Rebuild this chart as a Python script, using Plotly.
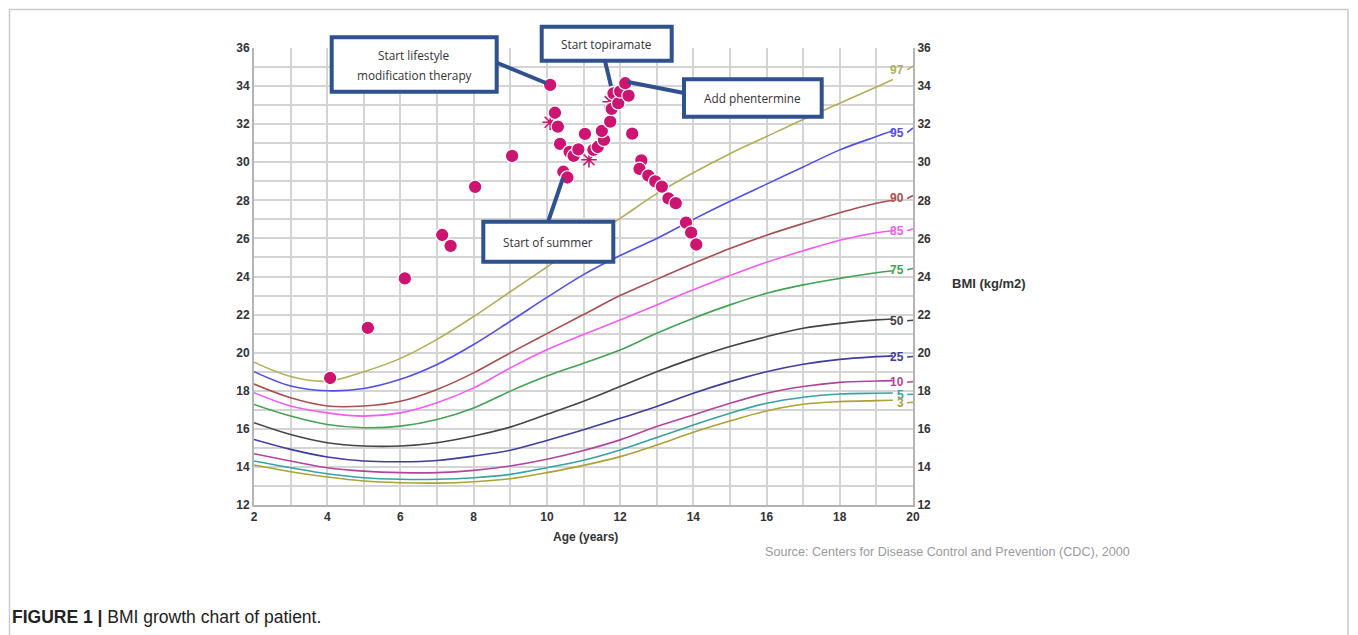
import plotly.graph_objects as go

# ---------------- data ----------------
ages = [2, 3, 4, 5, 6, 7, 8, 9, 10, 11, 12, 13, 14, 15, 16, 17, 18, 19, 19.45]
p97 = [19.5, 18.75, 18.5, 19.0, 19.7, 20.7, 21.9, 23.2, 24.5, 25.8, 27.05, 28.35, 29.45, 30.45, 31.35, 32.25, 33.1, 33.95, 34.35]
p95 = [19.0, 18.25, 18.0, 18.12, 18.6, 19.38, 20.43, 21.65, 22.9, 24.1, 25.1, 26.0, 27.0, 27.95, 28.85, 29.75, 30.65, 31.35, 31.65]
p90 = [18.35, 17.63, 17.2, 17.2, 17.45, 18.07, 18.94, 19.99, 21.0, 22.0, 23.0, 23.85, 24.68, 25.47, 26.17, 26.78, 27.35, 27.85, 28.0]
p85 = [17.9, 17.2, 16.84, 16.67, 16.84, 17.37, 18.15, 19.2, 20.15, 20.95, 21.72, 22.5, 23.3, 24.05, 24.75, 25.35, 25.9, 26.3, 26.4]
p75 = [17.28, 16.67, 16.23, 16.06, 16.14, 16.49, 17.1, 17.98, 18.77, 19.45, 20.14, 21.02, 21.81, 22.51, 23.12, 23.56, 23.9, 24.2, 24.3]
p50 = [16.32, 15.7, 15.27, 15.1, 15.1, 15.27, 15.62, 16.09, 16.76, 17.45, 18.22, 19.0, 19.7, 20.32, 20.84, 21.28, 21.54, 21.72, 21.77]
p25 = [15.44, 14.92, 14.52, 14.31, 14.27, 14.34, 14.57, 14.88, 15.39, 15.95, 16.55, 17.17, 17.87, 18.48, 19.0, 19.39, 19.65, 19.79, 19.83]
p10 = [14.69, 14.31, 13.96, 13.78, 13.7, 13.7, 13.82, 14.05, 14.4, 14.86, 15.42, 16.12, 16.73, 17.34, 17.87, 18.22, 18.44, 18.51, 18.53]
p5 = [14.31, 13.96, 13.64, 13.43, 13.35, 13.35, 13.43, 13.61, 13.96, 14.35, 14.89, 15.54, 16.2, 16.82, 17.34, 17.66, 17.83, 17.87, 17.88]
p3 = [14.1, 13.75, 13.47, 13.26, 13.17, 13.15, 13.22, 13.38, 13.7, 14.08, 14.54, 15.15, 15.82, 16.41, 16.94, 17.29, 17.43, 17.48, 17.5]

pct_names = ["97", "95", "90", "85", "75", "50", "25", "10", "5", "3"]
label_y = [34.85, 31.55, 28.1, 26.4, 24.35, 21.68, 19.77, 18.45, 17.8, 17.37]
end_y = [35.05, 31.8, 28.25, 26.5, 24.42, 21.7, 19.8, 18.47, 17.82, 17.4]
pct_colors = ["#b3ae5a", "#5050e4", "#a94f4f", "#f25cf2", "#43a352",
              "#444444", "#3d3d9e", "#b2449f", "#35a3a3", "#aba236"]

pt_age = [4.08, 5.11, 6.12, 7.14, 7.37, 8.04, 9.05, 10.09, 10.22, 10.3, 10.36, 10.45, 10.56,
          10.62, 10.73, 10.86, 11.04, 11.27, 11.39, 11.56, 11.5, 11.73, 11.77, 11.82, 11.95,
          12.0, 12.23, 12.14, 12.33, 12.58, 12.53, 12.77, 12.96, 13.14, 13.32, 13.52, 13.8,
          13.94, 14.08]
pt_bmi = [18.67, 21.3, 23.9, 26.18, 25.61, 28.71, 30.33, 34.06, 32.6, 31.87, 30.96, 29.5, 29.2,
          30.55, 30.33, 30.68, 31.49, 30.65, 30.8, 31.17, 31.64, 32.13, 32.8, 33.62, 33.1,
          33.72, 33.5, 34.15, 31.5, 30.1, 29.65, 29.3, 29.0, 28.72, 28.1, 27.85, 26.83,
          26.3, 25.68]
star_age = [10.09, 11.15, 11.73]
star_bmi = [32.1, 30.13, 33.18]

x_ticks = [2, 4, 6, 8, 10, 12, 14, 16, 18, 20]
y_ticks = [12, 14, 16, 18, 20, 22, 24, 26, 28, 30, 32, 34, 36]

# ---------------- geometry (screen pixels; page has an 8px body margin) ----------------
OFF = 8
W, H = 1350, 627
L, R, T, B = 254, 913, 48, 505


def px(xpix):
    return (xpix - L) / (R - L)


def py(ypix):
    return (B - ypix) / (B - T)


FONT = "Arial, Liberation Sans, sans-serif"
BOX = "#2f528f"
PINK = "#cc1470"

fig = go.Figure()

series = [p97, p95, p90, p85, p75, p50, p25, p10, p5, p3]
for name, vals, col, ly, ey in zip(pct_names, series, pct_colors, label_y, end_y):
    fig.add_trace(go.Scatter(x=ages, y=vals, mode="lines", line=dict(color=col, width=1.6, shape="spline"),
                             hoverinfo="skip", showlegend=False))
    fig.add_trace(go.Scatter(x=[19.84, 20], y=[ly, ey], mode="lines", line=dict(color=col, width=1.6),
                             hoverinfo="skip", showlegend=False))
    fig.add_annotation(x=19.84, y=ly, xref="x", yref="y", text=name, showarrow=False,
                       xanchor="right", yanchor="middle", xshift=-1,
                       font=dict(family=FONT, size=12, color=col, weight="bold"))

fig.add_trace(go.Scatter(x=star_age, y=star_bmi, mode="markers",
                         marker=dict(symbol="asterisk-open", size=13, color=PINK,
                                     line=dict(color=PINK, width=1.6)),
                         hoverinfo="skip", showlegend=False))
fig.add_trace(go.Scatter(x=pt_age, y=pt_bmi, mode="markers",
                         marker=dict(symbol="circle", size=13.5, color=PINK, line=dict(color="white", width=1.2)),
                         showlegend=False))
fig.add_trace(go.Scatter(x=[2], y=[12], yaxis="y2", mode="markers", marker=dict(opacity=0),
                         hoverinfo="skip", showlegend=False))

grid = "#d4d4d4"
axis_line = "#b4b4b4"
tickfont = dict(family=FONT, size=12, color="#333333", weight="bold")

fig.update_layout(
    width=W, height=H,
    margin=dict(l=L - OFF, r=W - (R - OFF), t=T - OFF, b=H - (B - OFF)),
    paper_bgcolor="white", plot_bgcolor="white",
    showlegend=False,
    xaxis=dict(range=[2, 20], tickvals=x_ticks, ticktext=[str(v) for v in x_ticks],
               showgrid=True, gridcolor=grid, gridwidth=2,
               minor=dict(dtick=1, tick0=2, showgrid=True, gridcolor=grid, gridwidth=2),
               showline=True, linecolor=axis_line, linewidth=2, zeroline=False,
               ticks="", tickfont=tickfont, fixedrange=True),
    yaxis=dict(range=[12, 36], tickvals=y_ticks, ticktext=[str(v) for v in y_ticks],
               showgrid=True, gridcolor=grid, gridwidth=2,
               minor=dict(dtick=1, tick0=12, showgrid=True, gridcolor=grid, gridwidth=2),
               showline=True, linecolor=axis_line, linewidth=2, zeroline=False,
               ticks="", tickfont=tickfont, fixedrange=True),
    yaxis2=dict(range=[12, 36], overlaying="y", side="right", tickvals=y_ticks,
                ticktext=[str(v) for v in y_ticks], showgrid=False,
                showline=True, linecolor=axis_line, linewidth=2, zeroline=False,
                ticks="", tickfont=tickfont, fixedrange=True),
)

# outer frame (kept inside the figure canvas)
fig.add_shape(type="rect", xref="paper", yref="paper", x0=px(9.5), x1=px(1348), y0=py(660), y1=py(9.5),
              line=dict(color="#c9c9c9", width=1.5), layer="below")

# annotation boxes
boxes = [
    (331.7, 496.7, 37.3, 91.7),
    (541.7, 671.7, 26.7, 60.7),
    (684, 821.7, 79.3, 116.7),
    (483.3, 613.3, 221.7, 261.7),
]
connectors = [
    (495, 62, 546, 83),
    (605, 61, 611, 86),
    (684, 93, 628, 82),
    (548, 222, 563, 178),
]
for x0, y0, x1, y1 in connectors:
    fig.add_shape(type="line", xref="paper", yref="paper", x0=px(x0), y0=py(y0), x1=px(x1), y1=py(y1),
                  line=dict(color=BOX, width=4))
for x0, x1, y0, y1 in boxes:
    fig.add_shape(type="rect", xref="paper", yref="paper", x0=px(x0), x1=px(x1), y0=py(y1), y1=py(y0),
                  line=dict(color=BOX, width=4), fillcolor="white")

box_font = dict(family="Open Sans, Liberation Sans, sans-serif", size=11.8, color="#333333")
box_texts = [
    ("Start lifestyle", 414, 55),
    ("modification therapy", 414, 75),
    ("Start topiramate", 606.7, 44),
    ("Add phentermine", 752.8, 98),
    ("Start of summer", 548.3, 241.7),
]
for txt, xx, yy in box_texts:
    fig.add_annotation(x=px(xx), y=py(yy), xref="paper", yref="paper", text=txt, showarrow=False,
                       xanchor="center", yanchor="middle", font=box_font)

# axis titles and texts
fig.add_annotation(x=px(585), y=py(537), xref="paper", yref="paper", text="Age (years)", showarrow=False,
                   xanchor="center", yanchor="middle", font=dict(family=FONT, size=12, color="#333333", weight="bold"))
fig.add_annotation(x=px(950), y=py(283), xref="paper", yref="paper", text="BMI (kg/m2)", showarrow=False,
                   xanchor="left", yanchor="middle", font=dict(family=FONT, size=13, color="#333333", weight="bold"))
fig.add_annotation(x=px(763), y=py(552), xref="paper", yref="paper",
                   text="Source: Centers for Disease Control and Prevention (CDC), 2000", showarrow=False,
                   xanchor="left", yanchor="middle", font=dict(family=FONT, size=12.6, color="#9a9a9a"))
fig.add_annotation(x=px(10), y=py(617), xref="paper", yref="paper",
                   text="<b>FIGURE 1 |</b> BMI growth chart of patient.", showarrow=False,
                   xanchor="left", yanchor="middle", font=dict(family=FONT, size=17.5, color="#222222"))

fig.write_html("out.html")
